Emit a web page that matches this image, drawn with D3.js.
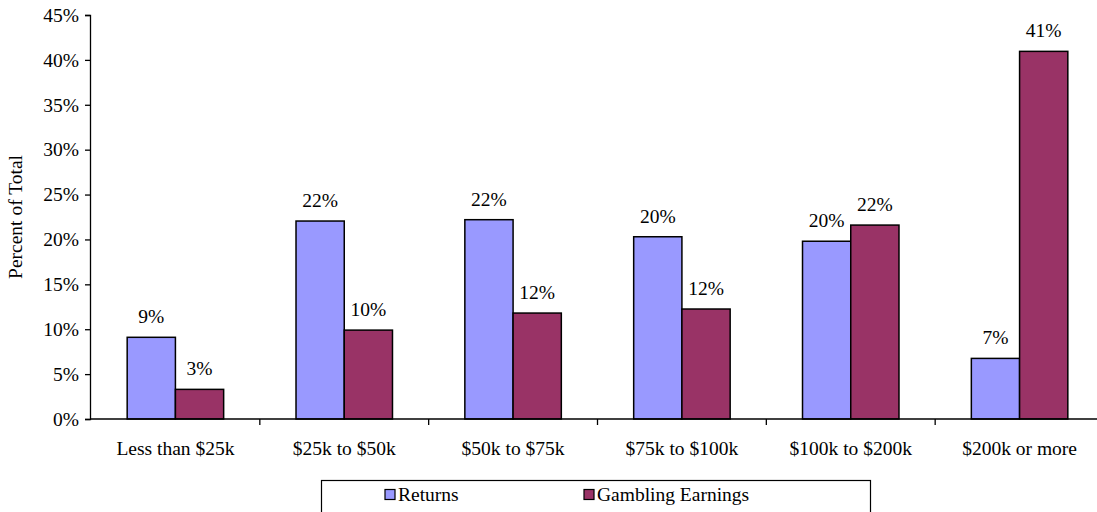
<!DOCTYPE html>
<html>
<head>
<meta charset="utf-8">
<script src="https://cdn.jsdelivr.net/npm/d3@7"></script>
<style>
  body { margin: 0; background: #fff; }
  svg { display: block; font-family: "Liberation Serif", "Times New Roman", serif; }
</style>
</head>
<body>
<div id="chart"></div>
<script>
const categories = ["Less than $25k", "$25k to $50k", "$50k to $75k", "$75k to $100k", "$100k to $200k", "$200k or more"];
const seriesNames = ["Returns", "Gambling Earnings"];
const returns = [9.1, 22.05, 22.2, 20.3, 19.8, 6.75];
const gambling = [3.3, 9.9, 11.8, 12.25, 21.6, 40.95];
const returnLabels = ["9%", "22%", "22%", "20%", "20%", "7%"];
const gamblingLabels = ["3%", "10%", "12%", "12%", "22%", "41%"];
const yTicks = [0, 5, 10, 15, 20, 25, 30, 35, 40, 45];
const colors = ["#9999FF", "#993366"];

const width = 1097, height = 512;
const margin = {top: 15, left: 91, bottom: 93, right: -7};

const svg = d3.select("#chart").append("svg")
  .attr("width", width).attr("height", height);

const x = d3.scaleBand()
  .domain(categories)
  .range([margin.left, width - margin.right]);

const inner = d3.scaleBand()
  .domain(seriesNames)
  .range([0, x.bandwidth()])
  .paddingOuter(0.75);

const y = d3.scaleLinear()
  .domain([0, 45])
  .range([height - margin.bottom, margin.top]);

const fontSize = "19.5px";

// bars
const groups = svg.append("g").selectAll("g")
  .data(categories)
  .join("g")
    .attr("transform", d => `translate(${x(d)},0)`);

groups.each(function(c, i) {
  const g = d3.select(this);
  const vals = [returns[i], gambling[i]];
  const labs = [returnLabels[i], gamblingLabels[i]];
  seriesNames.forEach((s, j) => {
    g.append("rect")
      .attr("x", inner(s))
      .attr("y", y(vals[j]))
      .attr("width", inner.bandwidth())
      .attr("height", y(0) - y(vals[j]))
      .attr("fill", colors[j])
      .attr("stroke", "#000")
      .attr("stroke-width", 1.5);
    g.append("text")
      .attr("x", inner(s) + inner.bandwidth() / 2)
      .attr("y", y(vals[j]) - 14)
      .attr("text-anchor", "middle")
      .style("font-size", fontSize)
      .attr("fill", "#000")
      .text(labs[j]);
  });
});

// y axis
svg.append("g")
  .attr("transform", `translate(${margin.left - 1},0)`)
  .call(d3.axisLeft(y).tickValues(yTicks).tickFormat(d => d + "%").tickSize(5).tickPadding(6))
  .call(g => g.selectAll("text").style("font-size", fontSize).style("font-family", "Liberation Serif").attr("fill", "#000"))
  .call(g => g.selectAll("line,path").attr("stroke", "#000").attr("stroke-width", 1.3));

// x axis
const xTickPos = categories.map(c => x(c) + x.bandwidth());
svg.append("line")
  .attr("x1", margin.left - 1).attr("x2", width)
  .attr("y1", y(0)).attr("y2", y(0))
  .attr("stroke", "#000").attr("stroke-width", 1.3);
svg.append("g").selectAll("line")
  .data(xTickPos.slice(0, -1))
  .join("line")
    .attr("x1", d => d).attr("x2", d => d)
    .attr("y1", y(0)).attr("y2", y(0) + 6)
    .attr("stroke", "#000").attr("stroke-width", 1.3);
svg.append("g").selectAll("text")
  .data(categories)
  .join("text")
    .attr("x", d => x(d) + x.bandwidth() / 2)
    .attr("y", y(0) + 36)
    .attr("text-anchor", "middle")
    .style("font-size", fontSize)
    .text(d => d);

// y title
svg.append("text")
  .attr("transform", `translate(22,${(y(0) + y(45)) / 2}) rotate(-90)`)
  .attr("text-anchor", "middle")
  .style("font-size", fontSize)
  .text("Percent of Total");

// legend
const legend = svg.append("g");
legend.append("rect")
  .attr("x", 321.5).attr("y", 480.5)
  .attr("width", 549).attr("height", 40)
  .attr("fill", "none").attr("stroke", "#000").attr("stroke-width", 1.2);
const legendX = [385, 584];
seriesNames.forEach((s, j) => {
  legend.append("rect")
    .attr("x", legendX[j]).attr("y", 489.5)
    .attr("width", 10).attr("height", 10)
    .attr("fill", colors[j]).attr("stroke", "#000").attr("stroke-width", 1.2);
  legend.append("text")
    .attr("x", legendX[j] + 13).attr("y", 501)
    .style("font-size", fontSize)
    .text(s);
});
</script>
</body>
</html>
